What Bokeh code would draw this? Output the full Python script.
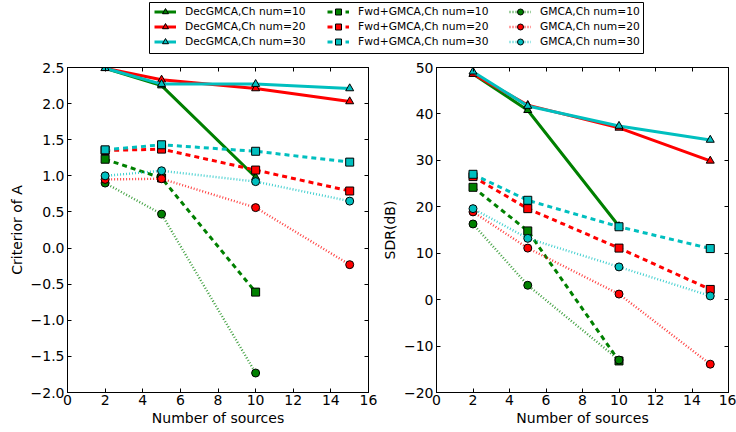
from bokeh.plotting import figure
from bokeh.models import (Range1d, LinearAxis, FixedTicker, Legend, LegendItem,
                          ColumnDataSource)
from bokeh.layouts import column, row
from bokeh.embed import file_html
from bokeh.resources import INLINE

# ---------------- data ----------------
x_full = [2, 5, 10, 15]
x_short = [2, 5, 10]

# Criterion of A
crit_dec10 = [2.49, 2.25, 0.98]
crit_dec20 = [2.49, 2.33, 2.21, 2.03]
crit_dec30 = [2.49, 2.27, 2.27, 2.21]
crit_fwd10 = [1.23, 0.97, -0.61]
crit_fwd20 = [1.35, 1.37, 1.08, 0.79]
crit_fwd30 = [1.36, 1.43, 1.34, 1.19]
crit_gmca10 = [0.90, 0.47, -1.73]
crit_gmca20 = [0.95, 0.96, 0.56, -0.23]
crit_gmca30 = [1.00, 1.07, 0.92, 0.65]

# SDR (dB)
sdr_dec10 = [48.6, 40.8, 15.8]
sdr_dec20 = [48.6, 41.9, 37.0, 29.9]
sdr_dec30 = [49.1, 41.7, 37.4, 34.4]
sdr_fwd10 = [24.2, 14.8, -13.2]
sdr_fwd20 = [26.5, 19.6, 11.1, 2.2]
sdr_fwd30 = [27.0, 21.4, 15.7, 11.0]
sdr_gmca10 = [16.3, 3.1, -13.0]
sdr_gmca20 = [18.9, 11.1, 1.2, -13.9]
sdr_gmca30 = [19.6, 13.2, 7.05, 0.8]

series_labels = [
    "DecGMCA,Ch num=10", "DecGMCA,Ch num=20", "DecGMCA,Ch num=30",
    "Fwd+GMCA,Ch num=10", "Fwd+GMCA,Ch num=20", "Fwd+GMCA,Ch num=30",
    "GMCA,Ch num=10", "GMCA,Ch num=20", "GMCA,Ch num=30",
]

x_ticks = [0, 2, 4, 6, 8, 10, 12, 14, 16]
x_tick_labels = ["0", "2", "4", "6", "8", "10", "12", "14", "16"]
crit_ticks = [-2.0, -1.5, -1.0, -0.5, 0.0, 0.5, 1.0, 1.5, 2.0, 2.5]
crit_tick_labels = ["\u22122.0", "\u22121.5", "\u22121.0", "\u22120.5", "0.0",
                    "0.5", "1.0", "1.5", "2.0", "2.5"]
sdr_ticks = [-20, -10, 0, 10, 20, 30, 40, 50]
sdr_tick_labels = ["\u221220", "\u221210", "0", "10", "20", "30", "40", "50"]

# ---------------- styles ----------------
GREEN, RED, CYAN = "#008000", "#ff0000", "#00bfbf"
colors = [GREEN, RED, CYAN] * 3
markers = ["triangle"] * 3 + ["square"] * 3 + ["circle"] * 3
line_styles = [dict(line_width=3, line_dash="solid", line_alpha=1.0)] * 3 + \
              [dict(line_width=3, line_dash="5 4", line_alpha=1.0)] * 3 + \
              [dict(line_width=2.4, line_dash="1 2", line_alpha=0.75)] * 3
FONT = "DejaVu Sans"


def mirror_axis(ticks):
    return LinearAxis(ticker=FixedTicker(ticks=ticks), major_tick_in=4, major_tick_out=0,
                      minor_tick_line_color=None, major_label_text_font_size="1px",
                      major_label_text_color=None, major_label_standoff=0,
                      axis_line_color="black")


def style_axes(p, ticks, labels_map, ylab):
    p.xgrid.visible = False
    p.ygrid.visible = False
    p.outline_line_color = "black"
    p.outline_line_width = 1
    p.background_fill_color = "white"
    p.border_fill_color = "white"
    xa = p.xaxis[0]
    ya = p.yaxis[0]
    xa.ticker = FixedTicker(ticks=x_ticks)
    xa.major_label_overrides = dict(zip(x_ticks, x_tick_labels))
    ya.ticker = FixedTicker(ticks=ticks)
    ya.major_label_overrides = labels_map
    xa.axis_label = "Number of sources"
    ya.axis_label = ylab
    for ax in (xa, ya):
        ax.major_tick_in = 4
        ax.major_tick_out = 0
        ax.minor_tick_line_color = None
        ax.axis_line_color = "black"
        ax.major_tick_line_color = "black"
        ax.major_label_text_font = FONT
        ax.major_label_text_font_size = "14px"
        ax.major_label_text_color = "black"
        ax.axis_label_text_font = FONT
        ax.axis_label_text_font_size = "14px"
        ax.axis_label_text_font_style = "normal"
        ax.axis_label_text_color = "black"
    xa.major_label_standoff = 2
    xa.axis_label_standoff = 2
    ya.major_label_standoff = 3
    ya.axis_label_standoff = 3
    p.add_layout(mirror_axis(x_ticks), "above")
    p.add_layout(mirror_axis(ticks), "right")


def draw(p, ys):
    for i, y in enumerate(ys):
        xs = x_full if len(y) == 4 else x_short
        src = ColumnDataSource(dict(x=xs, y=y))
        p.line("x", "y", source=src, line_color=colors[i], **line_styles[i])
        p.scatter("x", "y", source=src, marker=markers[i], size=8,
                  fill_color=colors[i], line_color="black", line_width=1)


H_LEG = 57
H_PLOT = 432 - H_LEG

p1 = figure(width=378, height=H_PLOT, output_backend="svg", toolbar_location=None,
            x_range=Range1d(0, 16), y_range=Range1d(-2.0, 2.5),
            min_border_left=67, min_border_right=10, min_border_top=67 - H_LEG,
            min_border_bottom=40)
style_axes(p1, crit_ticks, dict(zip(crit_ticks, crit_tick_labels)), "Criterior of A")
draw(p1, [crit_dec10, crit_dec20, crit_dec30, crit_fwd10, crit_fwd20, crit_fwd30,
          crit_gmca10, crit_gmca20, crit_gmca30])

p2 = figure(width=358, height=H_PLOT, output_backend="svg", toolbar_location=None,
            x_range=Range1d(0, 16), y_range=Range1d(-20, 50),
            min_border_left=49, min_border_right=8, min_border_top=67 - H_LEG,
            min_border_bottom=40)
style_axes(p2, sdr_ticks, dict(zip(sdr_ticks, sdr_tick_labels)), "SDR(dB)")
draw(p2, [sdr_dec10, sdr_dec20, sdr_dec30, sdr_fwd10, sdr_fwd20, sdr_fwd30,
          sdr_gmca10, sdr_gmca20, sdr_gmca30])

# ---------------- legend strip ----------------
leg = figure(width=736, height=H_LEG, output_backend="svg", toolbar_location=None,
             x_range=Range1d(0, 1), y_range=Range1d(0, 1),
             min_border_left=149, min_border_right=736 - 643,
             min_border_top=2, min_border_bottom=H_LEG - 53)
leg.axis.visible = False
leg.xgrid.visible = False
leg.ygrid.visible = False
leg.outline_line_color = "black"
leg.outline_line_width = 1

items = []
nan = float("nan")
for i in range(9):
    holder = ColumnDataSource(dict(x=[nan], y=[nan]))
    lr = leg.line("x", "y", source=holder, line_color=colors[i], **line_styles[i])
    sr = leg.scatter("x", "y", source=holder, marker=markers[i], size=8,
                     fill_color=colors[i], line_color="black", line_width=1)
    items.append(LegendItem(label=series_labels[i], renderers=[lr, sr]))

col_x = [5, 178, 360]
for c in range(3):
    lg = Legend(items=items[3 * c:3 * c + 3], location=(col_x[c], 4),
                glyph_width=22, glyph_height=15, label_height=15, spacing=0,
                padding=0, margin=0, label_standoff=9,
                border_line_color=None, background_fill_alpha=0,
                label_text_font=FONT, label_text_font_size="10.7px",
                label_text_color="black")
    leg.add_layout(lg, "center")

layout = column(leg, row(p1, p2))
open("out.html", "w").write(file_html(layout, INLINE))
